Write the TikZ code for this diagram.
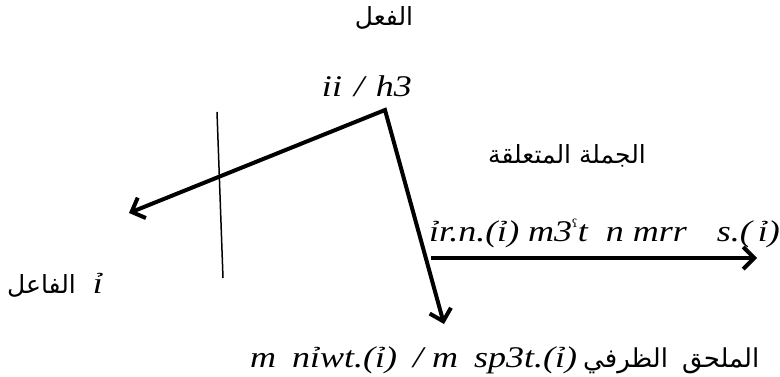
\documentclass[tikz,border=0pt]{standalone}
\usepackage{fontspec}
\usetikzlibrary{arrows.meta}
\TeXXeTstate=1
\setmainfont{Liberation Serif}
\newfontfamily\translit[FakeStretch=1.2]{Liberation Serif}
\newfontfamily\arabicfont[Script=Arabic]{DejaVu Sans}
\newfontfamily\dvserif{DejaVu Serif}
\tikzset{
  ar/.style={font=\arabicfont\fontsize{25}{28}\selectfont, inner sep=0pt},
  tr/.style={font=\translit\itshape\fontsize{30}{34}\selectfont, inner sep=0pt},
  thickarrow/.style={line width=4pt, line join=miter},
  thinbar/.style={line width=1.5pt},
}
\newcommand{\ayin}{{\dvserif\upshape\fontsize{20}{22}\selectfont\raisebox{6pt}{ˤ}}}
\begin{document}
\begin{tikzpicture}[x=1pt,y=-1pt]
\useasboundingbox (0,0) rectangle (780,377);
% texts
\node[ar, anchor=base] (fiil) at (384,26) {\beginR الفعل\endR};
\node[tr, anchor=base] (verb) at (367,97) {ii\hspace{12pt}/\hspace{12pt}h3};
\node[ar, anchor=base] (jumla) at (567,164) {\beginR الجملة المتعلقة\endR};
\node[tr, anchor=base west] (rel) at (429,241) {ỉr.n.(ỉ) m3\ayin t\hspace{18pt}n mrr\hspace{30pt}s.(\hspace{6pt}ỉ)};
\node[ar, anchor=base west] (faail) at (7,294) {\beginR الفاعل\endR};
\node[tr, anchor=base] (subj) at (98,293) {ỉ};
\node[tr, anchor=base west] (adv) at (250,367) {m\hspace{16pt}nỉwt.(ỉ)\hspace{16pt}/ m\hspace{16pt}sp3t.(ỉ)\hspace{6pt}{\arabicfont\upshape\fontsize{26}{28}\selectfont\beginR الملحق\hspace{14pt}الظرفي\endR}};
% geometry
\coordinate (apex) at (385,110);
\coordinate (subjtip) at (129,213);
\coordinate (objtip) at (444,324);
\coordinate (bartop) at (217,112);
\coordinate (barbot) at (223,278);
\coordinate (relstart) at (431,258);
\coordinate (reltip) at (757,258);
\draw[thickarrow, {Straight Barb[length=11pt,width=22pt]}-{Straight Barb[length=11pt,width=22pt]}] (subjtip) -- (apex) -- (objtip);
\draw[thinbar] (bartop) -- (barbot);
\draw[thickarrow, -{Straight Barb[length=11pt,width=22pt]}] (relstart) -- (reltip);
\end{tikzpicture}
\end{document}
